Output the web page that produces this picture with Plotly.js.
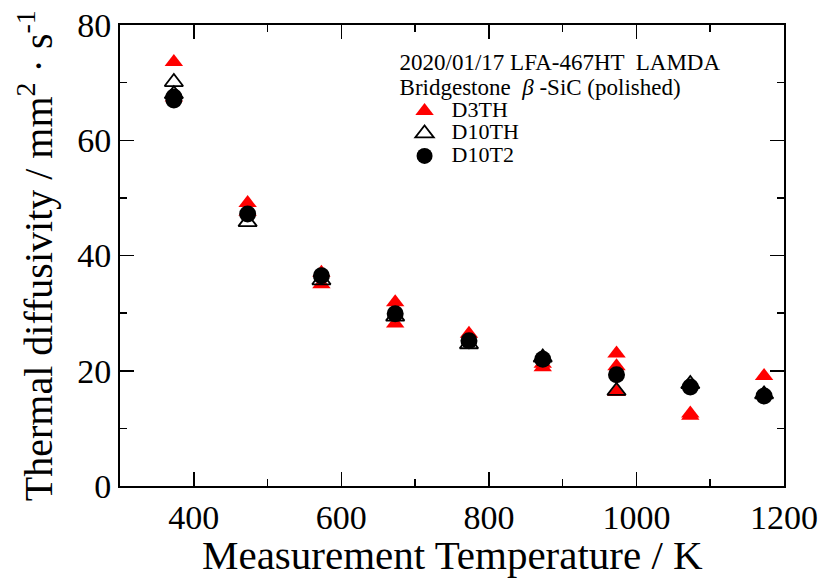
<!DOCTYPE html>
<html>
<head>
<meta charset="utf-8">
<script src="https://cdn.plot.ly/plotly-3.0.1.min.js"></script>
<style>html,body{margin:0;padding:0;background:#fff;}#chart{width:827px;height:578px;}</style>
</head>
<body>
<div id="chart"></div>
<script>
// Measurement temperatures (K) and thermal diffusivity (mm^2/s)
const d3thT   = [373, 373, 473, 473, 573, 573, 673, 673, 773, 873, 873, 973, 973, 973, 1073, 1073, 1173];
const d3thVal = [73.6, 67.4, 49.1, 47.6, 35.0, 37.0, 31.9, 28.2, 26.4, 20.6, 21.2, 23.0, 20.8, 16.3, 12.2, 12.6, 19.1];

const d10thT   = [373, 373, 473, 573, 673, 773, 873, 973, 1073, 1173];
const d10thVal = [70.1, 68.0, 45.8, 35.7, 29.4, 24.6, 22.3, 16.5, 17.7, 15.9];

const d10t2T   = [373, 373, 473, 573, 673, 773, 873, 973, 1073, 1173];
const d10t2Val = [67.0, 67.5, 47.2, 36.5, 29.9, 25.2, 22.0, 19.3, 17.2, 15.6];

const seriesNames = ['D3TH', 'D10TH', 'D10T2'];
const xTickVals = [400, 600, 800, 1000, 1200];
const yTickVals = [0, 20, 40, 60, 80];

const serif = '"Liberation Serif"';
const big = s => '<span style="font-size:22px">' + s + '</span>';

const traces = [
  {x: d3thT, y: d3thVal, name: big(seriesNames[0]), type: 'scatter', mode: 'markers',
   marker: {symbol: 'triangle-up', size: 16, color: '#ff0000', line: {width: 0}}},
  {x: d10thT, y: d10thVal, name: big(seriesNames[1]), type: 'scatter', mode: 'markers',
   marker: {symbol: 'triangle-up-open', size: 16, color: '#000000', line: {width: 1.8, color: '#000000'}}},
  {x: d10t2T, y: d10t2Val, name: big(seriesNames[2]), type: 'scatter', mode: 'markers',
   marker: {symbol: 'circle', size: 17, color: '#000000', line: {width: 0}}}
];

const axisCommon = {
  showgrid: false, zeroline: false,
  showline: true, linecolor: '#000', linewidth: 2, mirror: 'ticks',
  ticks: 'inside', ticklen: 14, tickwidth: 1.5, tickcolor: '#000',
  tickfont: {family: serif, size: 34, color: '#000'}
};

const layout = {
  width: 827, height: 578,
  margin: {l: 120, r: 43, t: 25, b: 92},
  paper_bgcolor: '#fff', plot_bgcolor: '#fff',
  font: {family: serif, color: '#000'},
  xaxis: Object.assign({}, axisCommon, {
    range: [300, 1200], tickvals: xTickVals,
    minor: {dtick: 100, tick0: 300, ticks: 'inside', ticklen: 7, tickwidth: 1.5, tickcolor: '#000'},
    title: {text: ''}
  }),
  yaxis: Object.assign({}, axisCommon, {
    range: [0, 80], tickvals: yTickVals,
    minor: {dtick: 10, tick0: 0, ticks: 'inside', ticklen: 7, tickwidth: 1.5, tickcolor: '#000'},
    title: {text: ''}
  }),
  annotations: [{
    text: 'Measurement Temperature / K',
    xref: 'paper', yref: 'paper', x: 0.5, y: -0.149, xanchor: 'center', yanchor: 'middle',
    showarrow: false, font: {family: serif, size: 41, color: '#000'}
  }, {
    text: 'Thermal diffusivity / mm<sup>2</sup> · s<sup>-1</sup>',
    xref: 'paper', yref: 'paper', x: -0.127, y: 0.5, xanchor: 'center', yanchor: 'middle',
    textangle: -90, showarrow: false, font: {family: serif, size: 40, color: '#000'}
  }],
  showlegend: true,
  legend: {
    x: 0.418, y: 0.956, xanchor: 'left', yanchor: 'top',
    bgcolor: 'rgba(0,0,0,0)', borderwidth: 0,
    font: {family: serif, size: 15, color: '#000'},
    title: {text: '<span style="font-size:23px">2020/01/17 LFA-467HT  LAMDA</span><br><span style="font-size:23px">Bridgestone  <i>β</i> -SiC (polished)</span>', side: 'top', font: {family: serif, size: 19, color: '#000'}},
    itemwidth: 44, tracegroupgap: 0
  }
};

Plotly.newPlot('chart', traces, layout, {staticPlot: true, displayModeBar: false});
</script>
</body>
</html>
